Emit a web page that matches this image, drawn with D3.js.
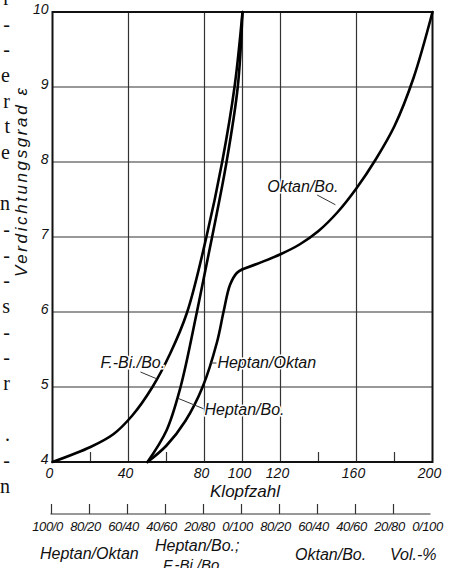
<!DOCTYPE html>
<html>
<head>
<meta charset="utf-8">
<script src="https://cdn.jsdelivr.net/npm/d3@7"></script>
<style>
  body { margin: 0; background: #fff; }
  svg { display: block; }
  .lbl { font-family: "Liberation Sans", Arial, sans-serif; font-style: italic; fill: #111; }
  .narrow { font-family: "Liberation Sans Narrow", "Liberation Sans", sans-serif; font-style: italic; fill: #111; }
  .margin { font-family: "Liberation Serif", "DejaVu Serif", serif; fill: #111; }
</style>
</head>
<body>
<div id="chart"></div>
<script>
// Klopfzahl (x) against Verdichtungsgrad e (y)
var fbiX = [0, 20, 32, 42, 52.6, 62, 70.9, 81, 89.3, 95.8, 100];
var fbiY = [4, 4.2, 4.37, 4.62, 5, 5.45, 6, 7, 8, 9, 10];

var hepBoX = [50, 60, 67.4, 76, 84, 91.6, 97.5, 100];
var hepBoY = [4, 4.42, 5, 6, 7, 8, 9, 10];

var hepOkX = [50, 60, 70, 79, 86.6, 90, 93.4, 97, 100];
var hepOkY = [4, 4.22, 4.55, 5, 5.6, 6, 6.36, 6.52, 6.57];

var oktBoX = [100, 110, 120, 130, 140, 150, 160, 170, 180, 190, 200];
var oktBoY = [6.57, 6.665, 6.77, 6.9, 7.08, 7.33, 7.65, 8.03, 8.48, 9.12, 10];

// axes
var xTicks = [0, 40, 80, 100, 120, 160, 200];
var xGrid = [40, 80, 100, 120, 160];
var xMinor = [20, 60, 140, 180];
var yTicks = [4, 5, 6, 7, 8, 9, 10];
var yGrid = [5, 6, 7, 8, 9];

// mixing scale under the Klopfzahl axis (Vol.-%)
var mixTicks = [0, 20, 40, 60, 80, 100, 120, 140, 160, 180];
var mixPos = [0, 20, 40, 60, 80, 100, 120, 140, 160, 180, 200];
var mixLabels = ["100/0", "80/20", "60/40", "40/60", "20/80", "0/100", "80/20", "60/40", "40/60", "20/80", "0/100"];

// curve labels in data units, leader [x1, y1, x2, y2]
var curveLabels = [
  { text: "F.-Bi./Bo.", x: 25.3, y: 5.25, lead: [46.3, 5.2, 54.8, 5.11] },
  { text: "Heptan/Oktan", x: 86.8, y: 5.25, lead: [83.3, 5.32, 86.3, 5.32] },
  { text: "Heptan/Bo.", x: 80, y: 4.63, lead: [66, 4.85, 79.5, 4.71] },
  { text: "Oktan/Bo.", x: 113, y: 7.6, lead: [139.3, 7.56, 148.9, 7.43] }
];

// cut-off text of the neighbouring book column
var marginChars = ["r", "-", "-", "e", "r", "t", "e", "", "n", "-", "-", "-", "s", "-", "-", "r", "", ".", "-", "n"];

var width = 449, height = 568;

var svg = d3.select("#chart")
  .append("svg")
  .attr("width", width)
  .attr("height", height);

var x = d3.scaleLinear().domain([0, 200]).range([52.5, 432.5]);
var y = d3.scaleLinear().domain([4, 10]).range([462, 12]);

// margin fragments
svg.append("g")
  .selectAll("text")
  .data(marginChars)
  .enter()
  .append("text")
  .attr("class", "margin")
  .attr("x", 10)
  .attr("y", function(d, i) { return 5 + i * 25.67; })
  .attr("text-anchor", "end")
  .style("font-size", "20px")
  .text(function(d) { return d; });

// grid
svg.append("g")
  .selectAll("line")
  .data(xGrid)
  .enter()
  .append("line")
  .attr("x1", function(d) { return x(d); })
  .attr("x2", function(d) { return x(d); })
  .attr("y1", y(4))
  .attr("y2", y(10))
  .attr("stroke", "#333")
  .attr("stroke-width", 1.2);

svg.append("g")
  .selectAll("line")
  .data(yGrid)
  .enter()
  .append("line")
  .attr("x1", x(0))
  .attr("x2", x(200))
  .attr("y1", function(d) { return y(d); })
  .attr("y2", function(d) { return y(d); })
  .attr("stroke", "#333")
  .attr("stroke-width", 1.2);

// minor ticks on the bottom edge
svg.append("g")
  .selectAll("line")
  .data(xMinor)
  .enter()
  .append("line")
  .attr("x1", function(d) { return x(d); })
  .attr("x2", function(d) { return x(d); })
  .attr("y1", y(4))
  .attr("y2", y(4) - 10)
  .attr("stroke", "#333")
  .attr("stroke-width", 1.2);

// frame
svg.append("rect")
  .attr("x", x(0))
  .attr("y", y(10))
  .attr("width", x(200) - x(0))
  .attr("height", y(4) - y(10))
  .attr("fill", "none")
  .attr("stroke", "#111")
  .attr("stroke-width", 2);

// tick labels
svg.append("g")
  .selectAll("text")
  .data(yTicks)
  .enter()
  .append("text")
  .attr("class", "lbl")
  .attr("x", x(0) - 4)
  .attr("y", function(d) { return y(d) + 2; })
  .attr("text-anchor", "end")
  .style("font-size", "14px")
  .text(function(d) { return d; });

svg.append("g")
  .selectAll("text")
  .data(xTicks)
  .enter()
  .append("text")
  .attr("class", "lbl")
  .attr("x", function(d) { return x(d) - 3; })
  .attr("y", y(4) + 16)
  .attr("text-anchor", "middle")
  .style("font-size", "14px")
  .text(function(d) { return d; });

svg.append("text")
  .attr("class", "lbl")
  .attr("x", 245)
  .attr("y", 497)
  .attr("text-anchor", "middle")
  .style("font-size", "17px")
  .text("Klopfzahl");

// axis title, stretched to the length it has in the figure
svg.append("text")
  .attr("class", "lbl")
  .attr("x", 0)
  .attr("y", 0)
  .attr("transform", "translate(27,88) rotate(-90)")
  .attr("text-anchor", "end")
  .attr("textLength", 189)
  .attr("lengthAdjust", "spacing")
  .style("font-size", "17px")
  .text("Verdichtungsgrad ε");

// mixing scale
var mixY = 514;
svg.append("line")
  .attr("x1", x(0) - 2)
  .attr("x2", x(200) - 2)
  .attr("y1", mixY)
  .attr("y2", mixY)
  .attr("stroke", "#333")
  .attr("stroke-width", 1.2);

svg.append("g")
  .selectAll("line")
  .data(mixTicks)
  .enter()
  .append("line")
  .attr("x1", function(d) { return x(d) - 1; })
  .attr("x2", function(d) { return x(d) - 1; })
  .attr("y1", mixY)
  .attr("y2", mixY - 10)
  .attr("stroke", "#333")
  .attr("stroke-width", 1.2);

svg.append("g")
  .selectAll("text")
  .data(mixPos)
  .enter()
  .append("text")
  .attr("class", "narrow")
  .attr("x", function(d) { return x(d) - 5; })
  .attr("y", mixY + 17)
  .attr("text-anchor", "middle")
  .style("font-size", "13px")
  .style("letter-spacing", "-0.4px")
  .text(function(d, i) { return mixLabels[i]; });

svg.append("text").attr("class", "lbl").attr("x", 40).attr("y", 559)
  .style("font-size", "16px").text("Heptan/Oktan");
svg.append("text").attr("class", "lbl").attr("x", 155).attr("y", 551)
  .style("font-size", "16px").text("Heptan/Bo.;");
svg.append("text").attr("class", "lbl").attr("x", 163).attr("y", 570)
  .style("font-size", "15px").text("F.-Bi./Bo.");
svg.append("text").attr("class", "lbl").attr("x", 295).attr("y", 560)
  .style("font-size", "16px").text("Oktan/Bo.");
svg.append("text").attr("class", "lbl").attr("x", 390).attr("y", 560)
  .style("font-size", "16px").text("Vol.-%");

// curves
var line = d3.line()
  .x(function(d) { return x(d[0]); })
  .y(function(d) { return y(d[1]); })
  .curve(d3.curveCatmullRom.alpha(0.5));

var series = [
  d3.zip(fbiX, fbiY),
  d3.zip(hepBoX, hepBoY),
  d3.zip(hepOkX, hepOkY),
  d3.zip(oktBoX, oktBoY)
];

svg.append("g")
  .selectAll("path")
  .data(series)
  .enter()
  .append("path")
  .attr("d", line)
  .attr("fill", "none")
  .attr("stroke", "#000")
  .attr("stroke-width", 2.6)
  .attr("stroke-linecap", "round");

// curve labels and leaders
var lab = svg.append("g");
lab.selectAll("line")
  .data(curveLabels)
  .enter()
  .append("line")
  .attr("x1", function(d) { return x(d.lead[0]); })
  .attr("y1", function(d) { return y(d.lead[1]); })
  .attr("x2", function(d) { return x(d.lead[2]); })
  .attr("y2", function(d) { return y(d.lead[3]); })
  .attr("stroke", "#333")
  .attr("stroke-width", 1);

lab.selectAll("text")
  .data(curveLabels)
  .enter()
  .append("text")
  .attr("class", "lbl")
  .attr("x", function(d) { return x(d.x); })
  .attr("y", function(d) { return y(d.y); })
  .style("font-size", "16px")
  .style("paint-order", "stroke")
  .style("stroke", "#fff")
  .style("stroke-width", "3px")
  .text(function(d) { return d.text; });
</script>
</body>
</html>
